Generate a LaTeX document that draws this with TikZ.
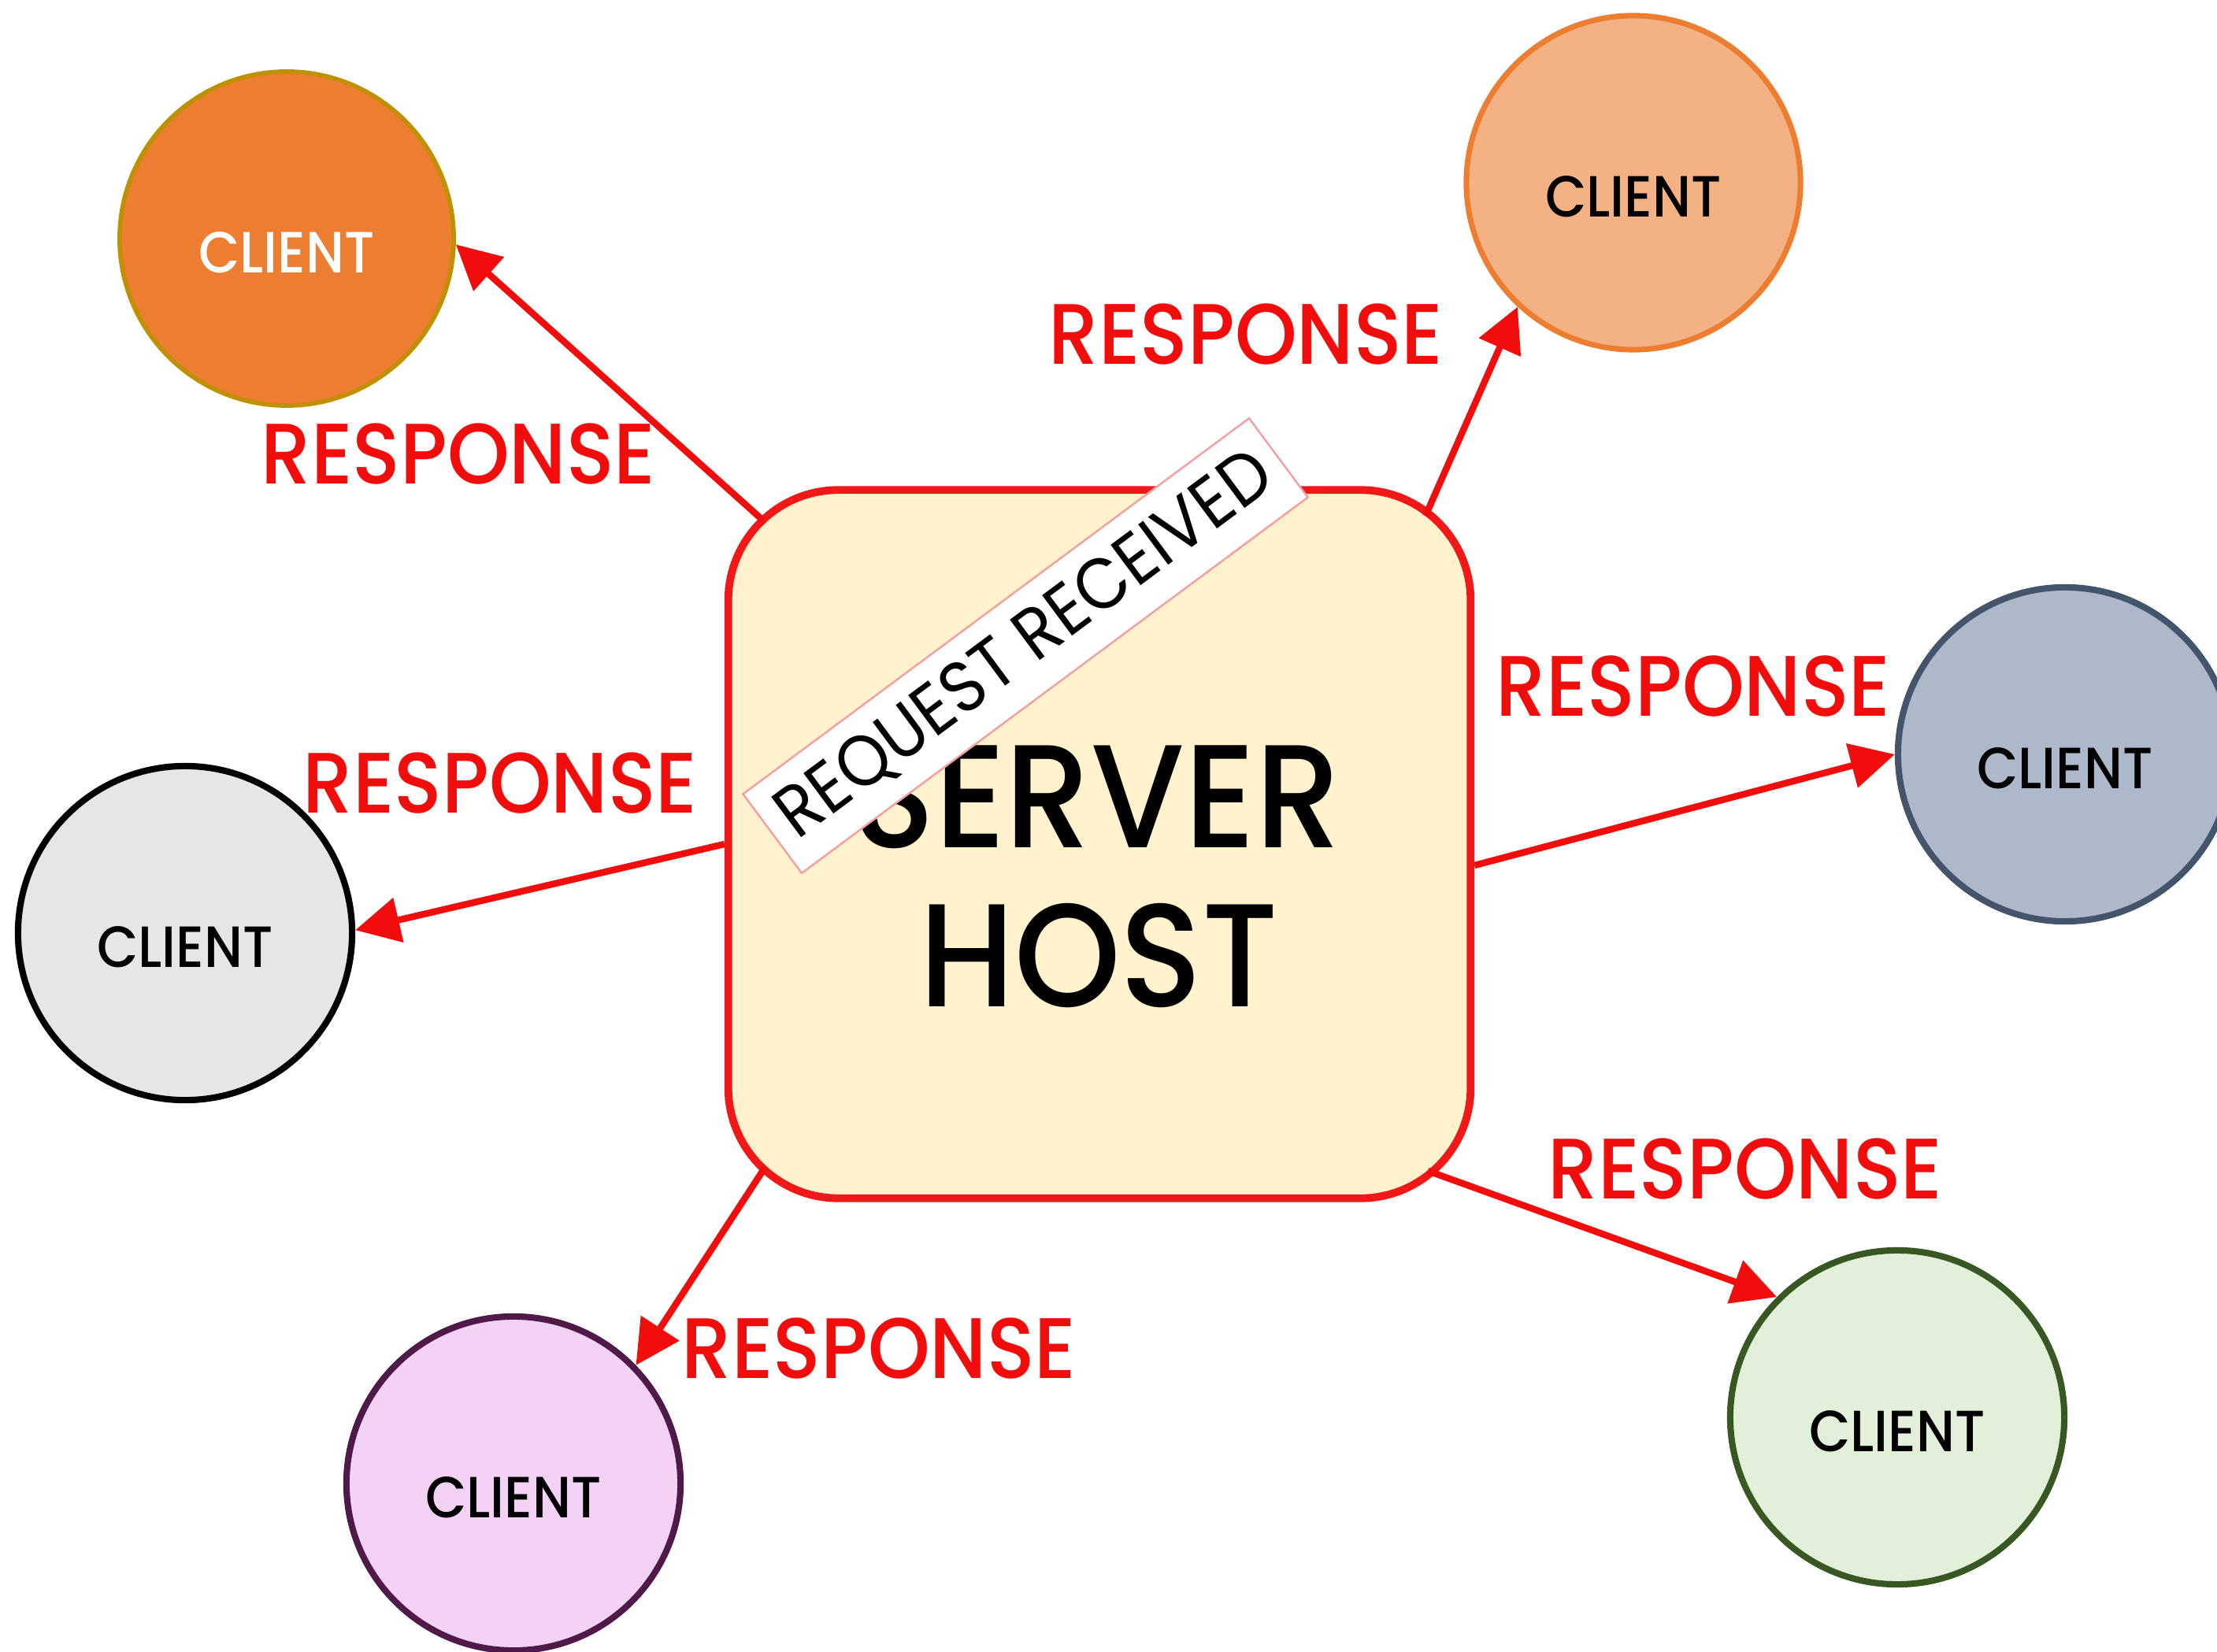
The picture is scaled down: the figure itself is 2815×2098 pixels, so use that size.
\documentclass[tikz,border=0pt]{standalone}
\usepackage{fontspec}
\usetikzlibrary{arrows.meta,calc}
\newfontfamily\popmed{Poppins Medium}[FakeStretch=0.92]
\newfontfamily\popreg{Poppins}[FakeStretch=0.92]
\newfontfamily\popbig{Poppins Medium}[FakeStretch=0.92]
\definecolor{srvfill}{HTML}{FFF2CC}
\definecolor{srvline}{HTML}{F21818}
\definecolor{respred}{HTML}{F20D0D}
\definecolor{aFill}{HTML}{ED7D31}\definecolor{aLine}{HTML}{BF9000}
\definecolor{bFill}{HTML}{F4B183}\definecolor{bLine}{HTML}{ED7D31}
\definecolor{cFill}{HTML}{E7E6E6}\definecolor{cLine}{HTML}{000000}
\definecolor{dFill}{HTML}{ADB9CA}\definecolor{dLine}{HTML}{44546A}
\definecolor{eFill}{HTML}{E2F0D9}\definecolor{eLine}{HTML}{385723}
\definecolor{fFill}{HTML}{F4D2F6}\definecolor{fLine}{HTML}{4F1A4A}
\definecolor{tagLine}{HTML}{F2A0A0}
\begin{document}
\begin{tikzpicture}[x=0.01cm,y=-0.01cm,
  client/.style={circle, minimum size=4.24cm, inner sep=0pt, line width=2.3pt,
    font=\popmed\fontsize{21}{21}\selectfont, text height=0.86cm, text depth=0pt},
  resp/.style={draw=respred, line width=2.4pt, -{Triangle[length=16pt,width=16pt]}},
  resplabel/.style={text=respred, font=\popmed\fontsize{31}{31}\selectfont, inner sep=0pt, anchor=base},
  srvtxt/.style={font=\popbig\fontsize{53}{53}\selectfont, inner sep=0pt, anchor=base},
  server/.style={draw=srvline, fill=srvfill, line width=2.8pt, rounded corners=1.4cm,
    minimum width=9.42cm, minimum height=8.99cm, inner sep=0pt},
  tag/.style={draw=tagLine, fill=white, line width=0.7pt, minimum width=8cm, minimum height=1.25cm,
    inner sep=0pt, font=\popreg\fontsize{26}{26}\selectfont}
]
\useasboundingbox (0,0) rectangle (2815,2098);
\clip (0,0) rectangle (2815,2098);

% clients
\node[client, fill=aFill, draw=aLine, line width=1.6pt, text=white] (c1) at (364,303) {CLIENT};
\node[client, fill=bFill, draw=bLine, line width=2pt] (c2) at (2074,232) {CLIENT};
\node[client, fill=cFill, draw=cLine] (c3) at (235,1185) {CLIENT};
\node[client, fill=dFill, draw=dLine] (c4) at (2622,958) {CLIENT};
\node[client, fill=eFill, draw=eLine] (c5) at (2409,1800) {CLIENT};
\node[client, fill=fFill, draw=fLine] (c6) at (652,1884) {CLIENT};

% server
\node[server] (server) at (1396,1072) {};
\node[srvtxt] (srv1) at (1393,1076) {SERVER};
\node[srvtxt] (srv2) at (1395,1278) {HOST};

% arrows
\draw[resp] ($(server.center)+(-427,-411)$) -- (c1.-2);
\draw[resp] ($(server.center)+(414,-417)$) -- (c2.-133);
\draw[resp] (server.west) -- (c3.1);
\draw[resp] ($(server.east)+(0,27)$) -- (c4.west);
\draw[resp] ($(server.center)+(417,415)$) -- (c5.135);
\draw[resp] ($(server.center)+(-425,411)$) -- (c6.44);

% labels
\node[resplabel] (r1) at (582,615) {RESPONSE};
\node[resplabel] (r2) at (1582,463) {RESPONSE};
\node[resplabel] (r3) at (635,1033) {RESPONSE};
\node[resplabel] (r4) at (2150,910) {RESPONSE};
\node[resplabel] (r5) at (2216,1522) {RESPONSE};
\node[resplabel] (r6) at (1116,1750) {RESPONSE};

% request tag
\node[tag, rotate=36.6] (req) at (1302,820) {REQUEST RECEIVED};
\end{tikzpicture}
\end{document}
